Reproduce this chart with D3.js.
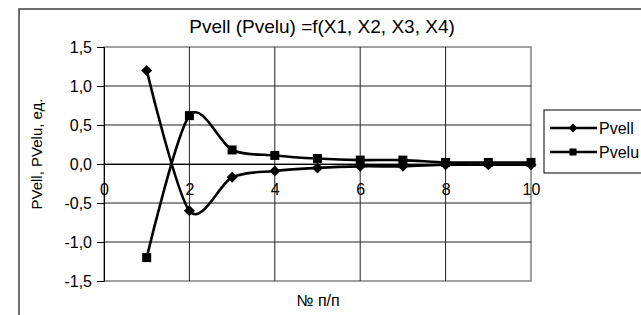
<!DOCTYPE html>
<html>
<head>
<meta charset="utf-8">
<script src="https://cdn.jsdelivr.net/npm/d3@7"></script>
<style>
  html, body { margin: 0; padding: 0; background: #fff; }
  svg { display: block; font-family: "Liberation Sans", Arial, sans-serif; }
</style>
</head>
<body>
<svg id="chart" width="641" height="315"></svg>
<script>
// ---- data ----
const xValues = [1, 2, 3, 4, 5, 6, 7, 8, 9, 10];
const pvell = [1.2, -0.6, -0.17, -0.09, -0.05, -0.03, -0.03, -0.01, -0.01, -0.01];
const pvelu = [-1.2, 0.62, 0.18, 0.11, 0.07, 0.05, 0.05, 0.02, 0.02, 0.02];
const xTicks = [0, 2, 4, 6, 8, 10];
const yTicks = [-1.5, -1.0, -0.5, 0.0, 0.5, 1.0, 1.5];
const seriesNames = ["Pvell", "Pvelu"];
const titleText = "Pvell (Pvelu) =f(X1, X2, X3, X4)";
const xTitle = "№ п/п";
const yTitle = "PVell, PVelu, ед.";

// ---- layout ----
const svg = d3.select("#chart");
const L = 104, R = 531, T = 47, B = 281;
const x = d3.scaleLinear().domain([0, 10]).range([L, R]);
const y = d3.scaleLinear().domain([-1.5, 1.5]).range([B, T]);
const fmt = v => d3.format(".1f")(v).replace(".", ",").replace("−", "-");

// outer chart border (extends beyond the window on right/bottom)
svg.append("rect").attr("x", 19).attr("y", 9).attr("width", 700).attr("height", 400)
  .attr("fill", "#fff").attr("stroke", "#404040").attr("stroke-width", 1.5);

// plot border
svg.append("rect").attr("x", L).attr("y", T).attr("width", R - L).attr("height", B - T)
  .attr("fill", "#fff").attr("stroke", "#808080").attr("stroke-width", 1.5);

// gridlines
svg.append("g").selectAll("line").data(yTicks.filter(d => d > -1.5 && d < 1.5)).join("line")
  .attr("x1", L).attr("x2", R).attr("y1", d => y(d)).attr("y2", d => y(d))
  .attr("stroke", "#222").attr("stroke-width", 1);
svg.append("g").selectAll("line").data(xTicks.filter(d => d > 0 && d < 10)).join("line")
  .attr("x1", d => x(d)).attr("x2", d => x(d)).attr("y1", T).attr("y2", B)
  .attr("stroke", "#222").attr("stroke-width", 1);

// y axis
const yAxis = d3.axisLeft(y).tickValues(yTicks).tickSize(7).tickPadding(5).tickFormat(fmt);
const gy = svg.append("g").attr("transform", `translate(${L},0)`).call(yAxis);
gy.select(".domain").attr("stroke", "#000").attr("stroke-width", 1);
gy.selectAll(".tick line").attr("stroke", "#000");
gy.selectAll(".tick text").attr("font-size", 16).attr("fill", "#000")
  .attr("font-family", "Liberation Sans, Arial, sans-serif");

// x axis at y=0
const xAxis = d3.axisBottom(x).tickValues(xTicks).tickSize(0).tickPadding(20).tickFormat(d3.format("d"));
const gx = svg.append("g").attr("transform", `translate(0,${y(0)})`).call(xAxis);
gx.select(".domain").attr("stroke", "#000").attr("stroke-width", 1.2);
gx.selectAll(".tick text").attr("font-size", 16).attr("fill", "#000")
  .attr("font-family", "Liberation Sans, Arial, sans-serif");

// lines
const line = d3.line().curve(d3.curveCardinal.tension(0.12))
  .x((d, i) => x(xValues[i])).y(d => y(d));

function drawSeries(vals, marker) {
  const g = svg.append("g");
  g.append("path").datum(vals).attr("d", line)
    .attr("fill", "none").attr("stroke", "#000").attr("stroke-width", 2.6);
  if (marker === "diamond") {
    g.selectAll("path.m").data(vals).join("path").attr("class", "m")
      .attr("d", "M0,-5.5L5.5,0L0,5.5L-5.5,0Z")
      .attr("transform", (d, i) => `translate(${x(xValues[i])},${y(d)})`)
      .attr("fill", "#000");
  } else {
    g.selectAll("rect.m").data(vals).join("rect").attr("class", "m")
      .attr("x", (d, i) => x(xValues[i]) - 4.5).attr("y", d => y(d) - 4.5)
      .attr("width", 9).attr("height", 9).attr("fill", "#000");
  }
}
drawSeries(pvell, "diamond");
drawSeries(pvelu, "square");

// title
svg.append("text").attr("x", 322).attr("y", 33).attr("text-anchor", "middle")
  .attr("font-size", 19).text(titleText);

// axis titles
svg.append("text").attr("x", 318).attr("y", 306).attr("text-anchor", "middle")
  .attr("font-size", 16).text(xTitle);
svg.append("text").attr("transform", "translate(42,154) rotate(-90)")
  .attr("text-anchor", "middle").attr("font-size", 15).text(yTitle);

// legend
const lg = svg.append("g");
lg.append("rect").attr("x", 544).attr("y", 110).attr("width", 120).attr("height", 63)
  .attr("fill", "#fff").attr("stroke", "#000").attr("stroke-width", 1);
const rows = [128, 152];
seriesNames.forEach((name, i) => {
  const yy = rows[i];
  lg.append("line").attr("x1", 550).attr("x2", 597).attr("y1", yy).attr("y2", yy)
    .attr("stroke", "#000").attr("stroke-width", 2.6);
  if (i === 0) {
    lg.append("path").attr("d", "M0,-4.5L4.5,0L0,4.5L-4.5,0Z")
      .attr("transform", `translate(573,${yy})`).attr("fill", "#000");
  } else {
    lg.append("rect").attr("x", 569.5).attr("y", yy - 3.5).attr("width", 7).attr("height", 7)
      .attr("fill", "#000");
  }
  lg.append("text").attr("x", 599).attr("y", yy + 6).attr("font-size", 16).text(name);
});
</script>
</body>
</html>
